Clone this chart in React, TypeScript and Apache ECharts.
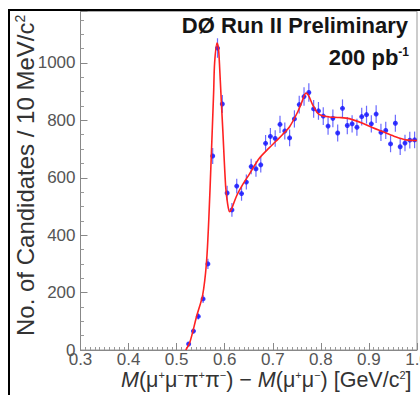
import React, { useEffect, useRef } from "react";
import * as echarts from "echarts";

const binCenters = [
  0.525, 0.535, 0.545, 0.555, 0.565, 0.575, 0.585, 0.595, 0.605, 0.615,
  0.625, 0.635, 0.645, 0.655, 0.665, 0.675, 0.685, 0.695, 0.705, 0.715,
  0.725, 0.735, 0.745, 0.755, 0.765, 0.775, 0.785, 0.795, 0.805, 0.815,
  0.825, 0.835, 0.845, 0.855, 0.865, 0.875, 0.885, 0.895, 0.905, 0.915,
  0.925, 0.935, 0.945, 0.955, 0.965, 0.975, 0.985, 0.995,
];
const counts = [
  21, 66, 117, 178, 300, 676, 1052, 857, 547, 488,
  571, 545, 585, 639, 631, 645, 720, 744, 737, 786,
  763, 739, 805, 855, 883, 897, 840, 833, 815, 780,
  807, 756, 842, 782, 788, 776, 813, 820, 788, 822,
  758, 765, 718, 790, 708, 721, 731, 732,
];
const errors = [
  6, 9, 11, 14, 18, 28, 34, 31, 25, 24,
  26, 25, 26, 27, 27, 27, 29, 29, 29, 30,
  30, 29, 30, 31, 32, 32, 31, 31, 31, 30,
  31, 30, 31, 30, 30, 30, 31, 31, 30, 31,
  30, 30, 29, 30, 29, 29, 29, 29,
];
const fitX = [
  0.519, 0.527, 0.542, 0.554, 0.562, 0.567, 0.572, 0.577, 0.579, 0.584,
  0.587, 0.589, 0.5925, 0.596, 0.602, 0.606, 0.61, 0.614, 0.624, 0.637,
  0.651, 0.672, 0.693, 0.707, 0.72, 0.735, 0.752, 0.76, 0.769, 0.774,
  0.783, 0.793, 0.803, 0.818, 0.838, 0.859, 0.887, 0.907, 0.928, 0.952,
  0.977, 1.0,
];
const fitY = [
  0, 24, 120, 190, 303, 460, 673, 900, 1000, 1069,
  1050, 1000, 880, 767, 569, 510, 482, 490, 534, 575,
  612, 668, 705, 728, 750, 778, 830, 862, 895, 888,
  854, 826, 816, 812, 810, 806, 790, 775, 761, 745,
  732, 730,
];
const xTickLabels = ["0.3", "0.4", "0.5", "0.6", "0.7", "0.8", "0.9", "1.0"];
const yTickLabels = ["0", "200", "400", "600", "800", "1000"];

const FONT = "'Liberation Sans', Arial, Helvetica, sans-serif";

export default function App() {
  const ref = useRef<HTMLDivElement>(null);
  useEffect(() => {
    if (!ref.current) return;
    const chart = echarts.init(ref.current, undefined, { renderer: "svg" });
    const pts = binCenters.map((x, i) => [x, counts[i], errors[i]]);
    const fit = fitX.map((x, i) => [x, fitY[i]]);
    chart.setOption({
      animation: false,
      backgroundColor: "#ffffff",
      grid: {
        left: 80.5,
        right: 3,
        top: 11.3,
        bottom: 45,
        outerBoundsMode: "none",
        containLabel: false,
        show: true,
        borderColor: "#999",
        borderWidth: 1,
        backgroundColor: "transparent",
      },
      xAxis: {
        type: "value",
        min: 0.3,
        max: 1.0,
        interval: 0.1,
        axisLine: { lineStyle: { color: "#888", width: 1 } },
        axisTick: { inside: true, length: 7, lineStyle: { color: "#888" } },
        minorTick: { show: true, splitNumber: 10, length: 3, lineStyle: { color: "#999" } },
        splitLine: { show: false },
        axisLabel: {
          color: "#555",
          fontSize: 17,
          fontFamily: FONT,
          margin: 1,
          hideOverlap: false,
          formatter: (v: number) => xTickLabels[Math.round((v - 0.3) * 10)] ?? "",
        },
      },
      yAxis: {
        type: "value",
        min: 0,
        max: 1180,
        interval: 200,
        axisLine: { show: true, lineStyle: { color: "#888", width: 1 } },
        axisTick: { show: true, inside: true, length: 7, lineStyle: { color: "#888" } },
        minorTick: { show: true, splitNumber: 4, length: 3.5, lineStyle: { color: "#999" } },
        splitLine: { show: false },
        axisLabel: {
          color: "#555",
          fontSize: 17,
          fontFamily: FONT,
          margin: 5,
          showMaxLabel: false,
          hideOverlap: false,
          formatter: (v: number) => yTickLabels[Math.round(v / 200)] ?? "",
        },
      },
      series: [
        {
          type: "custom",
          z: 2,
          renderItem: (params: any, api: any) => {
            const x = api.value(0);
            const y = api.value(1);
            const e = api.value(2);
            const t = api.coord([x, y + e]);
            const b = api.coord([x, Math.max(0, y - e)]);
            const l = api.coord([x - 0.004, y]);
            const r = api.coord([x + 0.004, y]);
            return {
              type: "group",
              children: [
                {
                  type: "line",
                  shape: { x1: t[0], y1: t[1], x2: b[0], y2: b[1] },
                  style: { stroke: "#6a6aff", lineWidth: 1.2 },
                },
                {
                  type: "line",
                  shape: { x1: l[0], y1: l[1], x2: r[0], y2: r[1] },
                  style: { stroke: "#6a6aff", lineWidth: 1.2 },
                },
              ],
            };
          },
          encode: { x: 0, y: 1 },
          data: pts,
        },
        {
          type: "scatter",
          z: 3,
          symbol: "circle",
          symbolSize: 5,
          itemStyle: { color: "#1414ff" },
          data: pts.map((p) => [p[0], p[1]]),
        },
        {
          type: "line",
          z: 4,
          smooth: 0.3,
          symbol: "none",
          lineStyle: { color: "#ff2222", width: 1.6 },
          data: fit,
        },
      ],
      graphic: [
        {
          type: "text",
          z: 10,
          x: 25,
          y: 336,
          rotation: Math.PI / 2,
          style: {
            text: "No. of Candidates / 10 MeV/c{s|2}",
            fill: "#333",
            font: `24px ${FONT}`,
            align: "left",
            verticalAlign: "middle",
            rich: {
              s: { fontSize: 14, verticalAlign: "top", lineHeight: 16, fill: "#333", fontFamily: FONT },
            },
          },
        },
        {
          type: "text",
          z: 10,
          x: 121,
          y: 380,
          style: {
            text: "{i|M}(μ{s|+}μ{s|−}π{s|+}π{s|−}) − {i|M}(μ{s|+}μ{s|−}) [GeV/c{s|2}]",
            fill: "#333",
            font: `21.5px ${FONT}`,
            align: "left",
            verticalAlign: "middle",
            rich: {
              i: { fontStyle: "italic", fontSize: 21.5, fill: "#333", fontFamily: FONT },
              s: { fontSize: 11, verticalAlign: "top", lineHeight: 13, fill: "#333", fontFamily: FONT },
            },
          },
        },
        {
          type: "text",
          z: 10,
          x: 408,
          y: 25,
          style: {
            text: "DØ Run II Preliminary",
            fill: "#151515",
            font: `bold 22px ${FONT}`,
            align: "right",
            verticalAlign: "middle",
          },
        },
        {
          type: "text",
          z: 10,
          x: 409,
          y: 57,
          style: {
            text: "200 pb{s|-1}",
            fill: "#151515",
            font: `bold 22px ${FONT}`,
            align: "right",
            verticalAlign: "middle",
            rich: {
              s: { fontSize: 12, fontWeight: "bold", verticalAlign: "top", lineHeight: 13, fill: "#151515", fontFamily: FONT },
            },
          },
        },
        { type: "rect", z: 20, shape: { x: 0, y: 0, width: 420, height: 9 }, style: { fill: "#fff" } },
        { type: "rect", z: 21, shape: { x: 8, y: 9, width: 412, height: 2 }, style: { fill: "#000" } },
        { type: "rect", z: 21, shape: { x: 8, y: 9, width: 2, height: 386 }, style: { fill: "#000" } },
      ],
    });
    return () => chart.dispose();
  }, []);
  return (
    <div
      ref={ref}
      style={{ position: "fixed", left: 0, top: 0, width: 420, height: 395, background: "#fff" }}
    />
  );
}
